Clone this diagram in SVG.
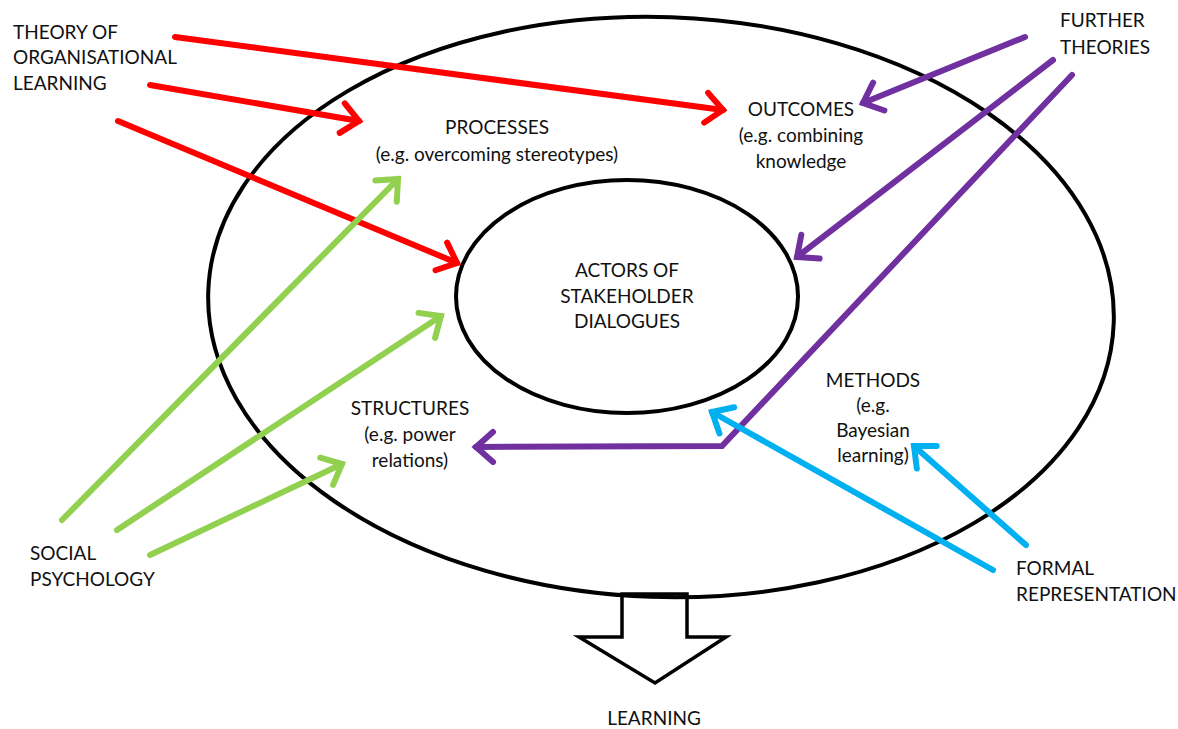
<svg xmlns="http://www.w3.org/2000/svg" width="1178" height="729" viewBox="0 0 1178 729">
  <style>
    text { font-family: Lato, "Liberation Sans", sans-serif; font-size: 19px; fill: #111; }
    .c { text-anchor: middle; }
    .ring { fill: none; stroke: #000; stroke-width: 4; }
    .arr { fill: none; stroke-width: 6; stroke-linecap: round; stroke-linejoin: miter; }
    .red { stroke: #FF0000; }
    .purple { stroke: #7030A0; }
    .green { stroke: #92D050; }
    .blue { stroke: #00B0F0; }
  </style>
  <defs>
    <marker id="hRed" markerUnits="userSpaceOnUse" markerWidth="44" markerHeight="44" viewBox="-32 -22 44 44" refX="0" refY="0" orient="auto" overflow="visible">
      <path d="M-17,-15 L0,0 L-17,15" fill="none" stroke="#FF0000" stroke-width="6" stroke-linecap="round"/>
    </marker>
    <marker id="hPurple" markerUnits="userSpaceOnUse" markerWidth="44" markerHeight="44" viewBox="-32 -22 44 44" refX="0" refY="0" orient="auto" overflow="visible">
      <path d="M-17,-15 L0,0 L-17,15" fill="none" stroke="#7030A0" stroke-width="6" stroke-linecap="round"/>
    </marker>
    <marker id="hGreen" markerUnits="userSpaceOnUse" markerWidth="44" markerHeight="44" viewBox="-32 -22 44 44" refX="0" refY="0" orient="auto" overflow="visible">
      <path d="M-17,-15 L0,0 L-17,15" fill="none" stroke="#92D050" stroke-width="6" stroke-linecap="round"/>
    </marker>
    <marker id="hBlue" markerUnits="userSpaceOnUse" markerWidth="44" markerHeight="44" viewBox="-32 -22 44 44" refX="0" refY="0" orient="auto" overflow="visible">
      <path d="M-17,-15 L0,0 L-17,15" fill="none" stroke="#00B0F0" stroke-width="6" stroke-linecap="round"/>
    </marker>
  </defs>

  <rect width="1178" height="729" fill="#fff"/>

  <!-- output arrow towards learning -->
  <g id="learning-arrow">
    <polygon points="622,594 622,637 579,637 655,683 726,637 687,637 687,594" fill="#fff" stroke="#000" stroke-width="3.5" stroke-linejoin="miter"/>
  </g>

  <!-- outer context ring -->
  <g id="outer-ring">
    <ellipse class="ring" cx="661" cy="307" rx="453" ry="290" transform="rotate(2 661 307)"/>
  </g>

  <!-- core: actors -->
  <g id="actors">
    <ellipse class="ring" cx="627" cy="296.5" rx="171" ry="116.5"/>
    <text class="c" x="627" y="277">ACTORS OF</text>
    <text class="c" x="627" y="303">STAKEHOLDER</text>
    <text class="c" x="627" y="328">DIALOGUES</text>
  </g>

  <g id="processes">
    <text class="c" x="497" y="134">PROCESSES</text>
    <text class="c" x="497" y="161">(e.g. overcoming stereotypes)</text>
  </g>

  <g id="outcomes">
    <text class="c" x="801" y="116">OUTCOMES</text>
    <text class="c" x="801" y="142">(e.g. combining</text>
    <text class="c" x="801" y="168">knowledge</text>
  </g>

  <g id="structures">
    <text class="c" x="410" y="415">STRUCTURES</text>
    <text class="c" x="410" y="441">(e.g. power</text>
    <text class="c" x="410" y="467">relations)</text>
  </g>

  <g id="methods">
    <text class="c" x="873" y="387">METHODS</text>
    <text class="c" x="873" y="412">(e.g.</text>
    <text class="c" x="873" y="437">Bayesian</text>
    <text class="c" x="873" y="462">learning)</text>
  </g>

  <g id="theory-org-learning">
    <text x="13" y="39">THEORY OF</text>
    <text x="13" y="64">ORGANISATIONAL</text>
    <text x="13" y="90">LEARNING</text>
  </g>

  <g id="further-theories">
    <text x="1060" y="27">FURTHER</text>
    <text x="1060" y="54">THEORIES</text>
  </g>

  <g id="social-psychology">
    <text x="30" y="560">SOCIAL</text>
    <text x="30" y="586">PSYCHOLOGY</text>
  </g>

  <g id="formal-representation">
    <text x="1016" y="575">FORMAL</text>
    <text x="1016" y="601">REPRESENTATION</text>
  </g>

  <g id="learning">
    <text class="c" x="654" y="725">LEARNING</text>
  </g>

  <!-- connectors -->
  <g id="connectors">
    <line class="arr red" x1="175" y1="37" x2="723" y2="110" marker-end="url(#hRed)"/>
    <line class="arr red" x1="150" y1="85" x2="359" y2="121" marker-end="url(#hRed)"/>
    <line class="arr red" x1="118" y1="121" x2="457" y2="263" marker-end="url(#hRed)"/>

    <line class="arr purple" x1="1025" y1="37" x2="863" y2="103" marker-end="url(#hPurple)"/>
    <line class="arr purple" x1="1053" y1="60" x2="797" y2="257" marker-end="url(#hPurple)"/>
    <polyline class="arr purple" points="1072,75 722,446 476,447" marker-end="url(#hPurple)"/>

    <line class="arr green" x1="62" y1="520" x2="398" y2="179" marker-end="url(#hGreen)"/>
    <line class="arr green" x1="117" y1="530" x2="441" y2="316" marker-end="url(#hGreen)"/>
    <line class="arr green" x1="150" y1="555" x2="342" y2="464" marker-end="url(#hGreen)"/>

    <line class="arr blue" x1="993" y1="570" x2="712" y2="412" marker-end="url(#hBlue)"/>
    <line class="arr blue" x1="1026" y1="545" x2="914" y2="446" marker-end="url(#hBlue)"/>
  </g>
</svg>
